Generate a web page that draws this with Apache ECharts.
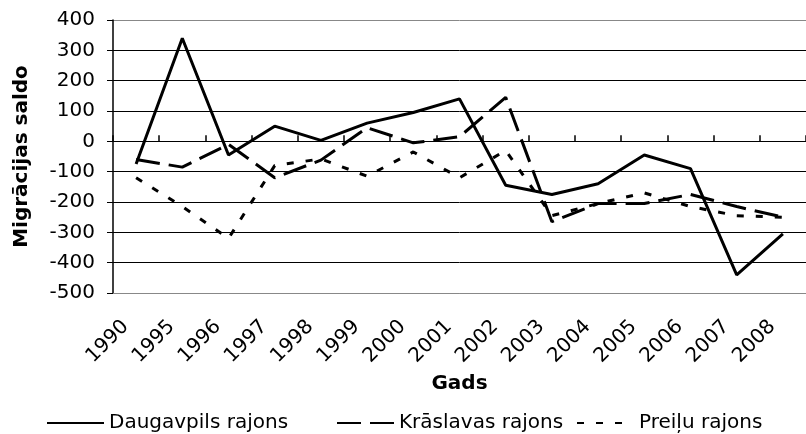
<!DOCTYPE html>
<html>
<head>
<meta charset="utf-8">
<script src="https://cdn.jsdelivr.net/npm/echarts@6/dist/echarts.min.js"></script>
<style>
  html, body { margin: 0; padding: 0; background: #fff; }
  #migracijaChart { width: 806px; height: 434px; }
</style>
</head>
<body>
<div id="migracijaChart"></div>
<script>
// gadi uz x ass
var gadi = ['1990','1995','1996','1997','1998','1999','2000','2001','2002','2003','2004','2005','2006','2007','2008'];

// migrācijas saldo pa rajoniem
var daugavpils = [-75, 340, -45, 50, 3, 60, 95, 140, -145, -175, -140, -45, -90, -440, -305];
var kraslavas  = [-60, -85, -10, -120, -62, 45, -5, 15, 145, -265, -205, -205, -175, -215, -250];
var preilu     = [-120, -215, -320, -80, -58, -115, -35, -120, -30, -245, -205, -170, -215, -245, -250];

// y ass robežas
var yMin = -500, yMax = 400, yStep = 100;

var fonts = 'DejaVu Sans';

// režģa līnijas: malējās pelēkas, pārējās melnas
var gridColors = ['#888'];
for (var v = yMin + yStep; v < yMax; v += yStep) gridColors.push('#000');
gridColors.push('#888');

var myChart = echarts.init(document.getElementById('migracijaChart'));

var option = {
    backgroundColor: '#fff',
    animation: false,
    grid: { left: 113, top: 20, right: -15, bottom: 141 },
    legend: [
        { data: ['Daugavpils rajons'], left: 46, top: 413 },
        { data: ['Krāslavas rajons'], left: 336, top: 413 },
        { data: ['Preiļu rajons'], left: 576, top: 413 }
    ].map(function (l) {
        l.itemWidth = 57;
        l.itemHeight = 20;
        l.padding = 0;
        l.itemStyle = { opacity: 0 };
        l.textStyle = { fontFamily: fonts, fontSize: 20, color: '#000' };
        return l;
    }),
    xAxis: [
        {
            type: 'category',
            data: gadi,
            position: 'bottom',
            axisLine: { onZero: false, lineStyle: { color: '#888', width: 1 } },
            axisTick: { show: false },
            axisLabel: {
                interval: 0,
                rotate: 45,
                margin: 20,
                padding: [0, 15, 0, 0],
                fontFamily: fonts,
                fontSize: 20,
                color: '#000'
            },
            name: 'Gads',
            nameLocation: 'middle',
            nameGap: 77,
            nameTextStyle: { fontFamily: fonts, fontSize: 20, fontWeight: 'bold', color: '#000' }
        },
        {
            // nulles līnija ar iedaļām
            type: 'category',
            data: gadi,
            position: 'top',
            axisLine: { onZero: true, lineStyle: { color: '#000', width: 1 } },
            axisTick: { show: true, length: 6, lineStyle: { color: '#000', width: 1.5 } },
            axisLabel: { show: false }
        }
    ],
    yAxis: {
        type: 'value',
        min: yMin,
        max: yMax,
        interval: yStep,
        axisLine: { show: true, lineStyle: { color: '#000', width: 1.5 } },
        axisTick: { show: true, length: 6, lineStyle: { color: '#000' } },
        axisLabel: { margin: 18, fontFamily: fonts, fontSize: 20, color: '#000' },
        splitLine: { show: true, lineStyle: { color: gridColors, width: 1 } },
        name: 'Migrācijas saldo',
        nameLocation: 'middle',
        nameGap: 81,
        nameTextStyle: { fontFamily: fonts, fontSize: 20, fontWeight: 'bold', color: '#000' }
    },
    series: [
        {
            name: 'Daugavpils rajons',
            type: 'line',
            data: daugavpils,
            symbol: 'none',
            lineStyle: { color: '#000', width: 3, type: 'solid' },
            itemStyle: { color: '#000' }
        },
        {
            name: 'Krāslavas rajons',
            type: 'line',
            data: kraslavas,
            symbol: 'none',
            lineStyle: { color: '#000', width: 3, type: [24, 9] },
            itemStyle: { color: '#000' }
        },
        {
            name: 'Preiļu rajons',
            type: 'line',
            data: preilu,
            symbol: 'none',
            lineStyle: { color: '#000', width: 3, type: [7, 12] },
            itemStyle: { color: '#000' }
        }
    ]
};

myChart.setOption(option);
</script>
</body>
</html>
